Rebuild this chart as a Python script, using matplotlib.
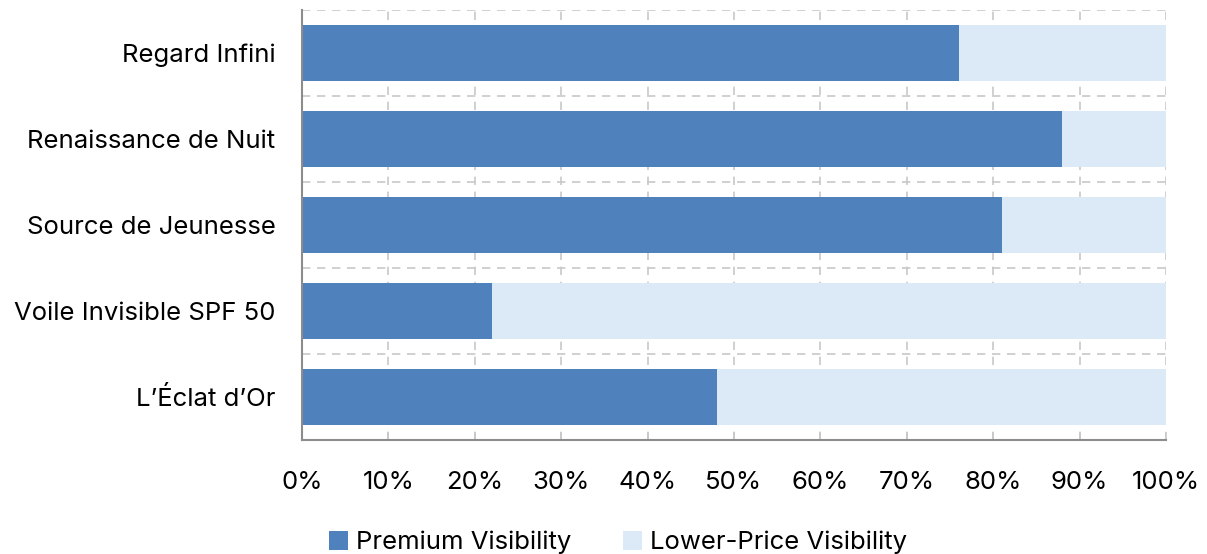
import numpy as np
import matplotlib.pyplot as plt
from matplotlib.ticker import PercentFormatter

plt.rcParams['font.family'] = ['Inter', 'DejaVu Sans']

products = ['Regard Infini', 'Renaissance de Nuit', 'Source de Jeunesse',
            'Voile Invisible SPF 50', 'L\u2019\u00c9clat d\u2019Or']
premium = np.array([76, 88, 81, 22, 48])
lower_price = 100 - premium

blue = '#4f81bd'
light = '#dce9f6'
grid = '#c8c8c8'

fig = plt.figure(figsize=(12.07, 5.54), dpi=100)
ax = fig.add_axes([0.2502, 0.2058, 0.7158, 0.7762])

y = np.arange(len(products))
ax.barh(y, premium, height=0.66, color=blue, label='Premium Visibility', zorder=3)
ax.barh(y, lower_price, left=premium, height=0.66, color=light,
        label='Lower-Price Visibility', zorder=3)

ax.set_xlim(0, 100)
ax.set_ylim(len(products) - 0.5, -0.5)
ax.set_yticks(y)
ax.set_yticklabels(products, fontsize=18.5)
ax.tick_params(axis='y', length=0, pad=19)

ax.set_xticks(np.arange(0, 101, 10))
ax.xaxis.set_major_formatter(PercentFormatter(decimals=0))
ax.tick_params(axis='x', direction='in', length=6, width=1.2, color=grid,
               labelsize=18.5, pad=22)

# dashed grid: vertical at each 10%, horizontal between categories
for xv in np.arange(10, 101, 10):
    ax.axvline(xv, color=grid, lw=1.2, ls=(0, (5, 4)), zorder=1)
for yv in np.arange(-0.5, len(products), 1):
    ax.axhline(yv, color=grid, lw=1.2, ls=(0, (5, 4)), zorder=1)

for side in ['top', 'right']:
    ax.spines[side].set_visible(False)
for side in ['left', 'bottom']:
    ax.spines[side].set_color('#8c8c8c')
    ax.spines[side].set_linewidth(1.5)
    ax.spines[side].set_zorder(4)

fig.legend(loc='lower center', bbox_to_anchor=(0.512, -0.042), ncol=2,
           frameon=False, fontsize=18.5, handlelength=0.75, handleheight=0.75,
           handletextpad=0.3, columnspacing=2.0)

fig.savefig('out.png', dpi=100)
